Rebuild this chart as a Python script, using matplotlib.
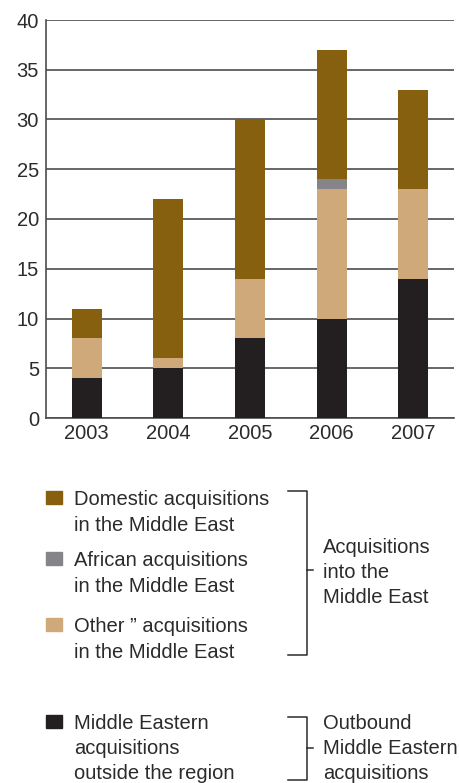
import matplotlib
matplotlib.use("Agg")
import matplotlib.pyplot as plt
import numpy as np
from matplotlib.patches import Rectangle
from matplotlib.lines import Line2D

plt.rcParams["font.family"] = ["Liberation Sans", "DejaVu Sans"]

# deal counts by year, stacked bottom to top
years = ["2003", "2004", "2005", "2006", "2007"]
outbound = [4, 5, 8, 10, 14]
other = [4, 1, 6, 13, 9]
african = [0, 0, 0, 1, 0]
domestic = [3, 16, 16, 13, 10]

series_values = [outbound, other, african, domestic]
series_colors = ["#231f20", "#cfa97a", "#858589", "#86600f"]

legend_labels = [
    ("Domestic acquisitions", "in the Middle East"),
    ("African acquisitions", "in the Middle East"),
    ("Other \u201d acquisitions", "in the Middle East"),
    ("Middle Eastern", "acquisitions", "outside the region"),
]
legend_colors = ["#86600f", "#858589", "#cfa97a", "#231f20"]
group_labels = [
    ("Acquisitions", "into the", "Middle East"),
    ("Outbound", "Middle Eastern", "acquisitions"),
]

TEXT = "#2b2b2b"
GRID = "#4d4d4d"
FS = 14.5
W, H = 459, 783

fig = plt.figure(figsize=(W / 100, H / 100), dpi=100)
ax = fig.add_axes([46 / W, 1 - 418 / H, 408 / W, 398 / H])

x = np.arange(len(years))
bottom = np.zeros(len(years))
for vals, col in zip(series_values, series_colors):
    ax.bar(x, vals, width=0.37, bottom=bottom, color=col, zorder=3)
    bottom += np.array(vals)

ax.set_xlim(-0.5, 4.5)
ax.set_ylim(0, 40)
ax.set_yticks(range(0, 41, 5))
ax.set_xticks(x)
ax.set_xticklabels(years)
ax.yaxis.grid(True, color=GRID, linewidth=1.2, zorder=0)
ax.tick_params(length=0, labelsize=FS, colors=TEXT, pad=4)
ax.tick_params(axis="y", pad=5)
for side in ["top", "right"]:
    ax.spines[side].set_visible(False)
for side in ["left", "bottom"]:
    ax.spines[side].set_color(GRID)
    ax.spines[side].set_linewidth(1.2)


def fx(px):
    return px / W


def fy(py):
    return 1 - py / H


def lines_at(xp, first_baseline, lines, step=25):
    for i, s in enumerate(lines):
        fig.text(fx(xp), fy(first_baseline + i * step), s, fontsize=FS,
                 color=TEXT, ha="left", va="baseline")


# legend swatches with their labels
swatch_tops = [491, 552, 618, 715]
baselines = [505, 566, 632, 729]
for top, base, col, lab in zip(swatch_tops, baselines, legend_colors, legend_labels):
    fig.add_artist(Rectangle((fx(46), fy(top + 13)), 16 / W, 13 / H,
                             transform=fig.transFigure, color=col))
    lines_at(74, base, lab, step=25 if len(lab) == 3 else 26)


def bracket(top, bottom, mid):
    kw = dict(transform=fig.transFigure, color=TEXT, linewidth=1.1)
    fig.add_artist(Line2D([fx(288), fx(307), fx(307), fx(288)],
                          [fy(top), fy(top), fy(bottom), fy(bottom)], **kw))
    fig.add_artist(Line2D([fx(307), fx(313)], [fy(mid), fy(mid)], **kw))


bracket(491, 655, 570)
lines_at(323, 553, group_labels[0])
bracket(717, 780, 748)
lines_at(323, 729, group_labels[1])

fig.savefig("out.png", dpi=100)
